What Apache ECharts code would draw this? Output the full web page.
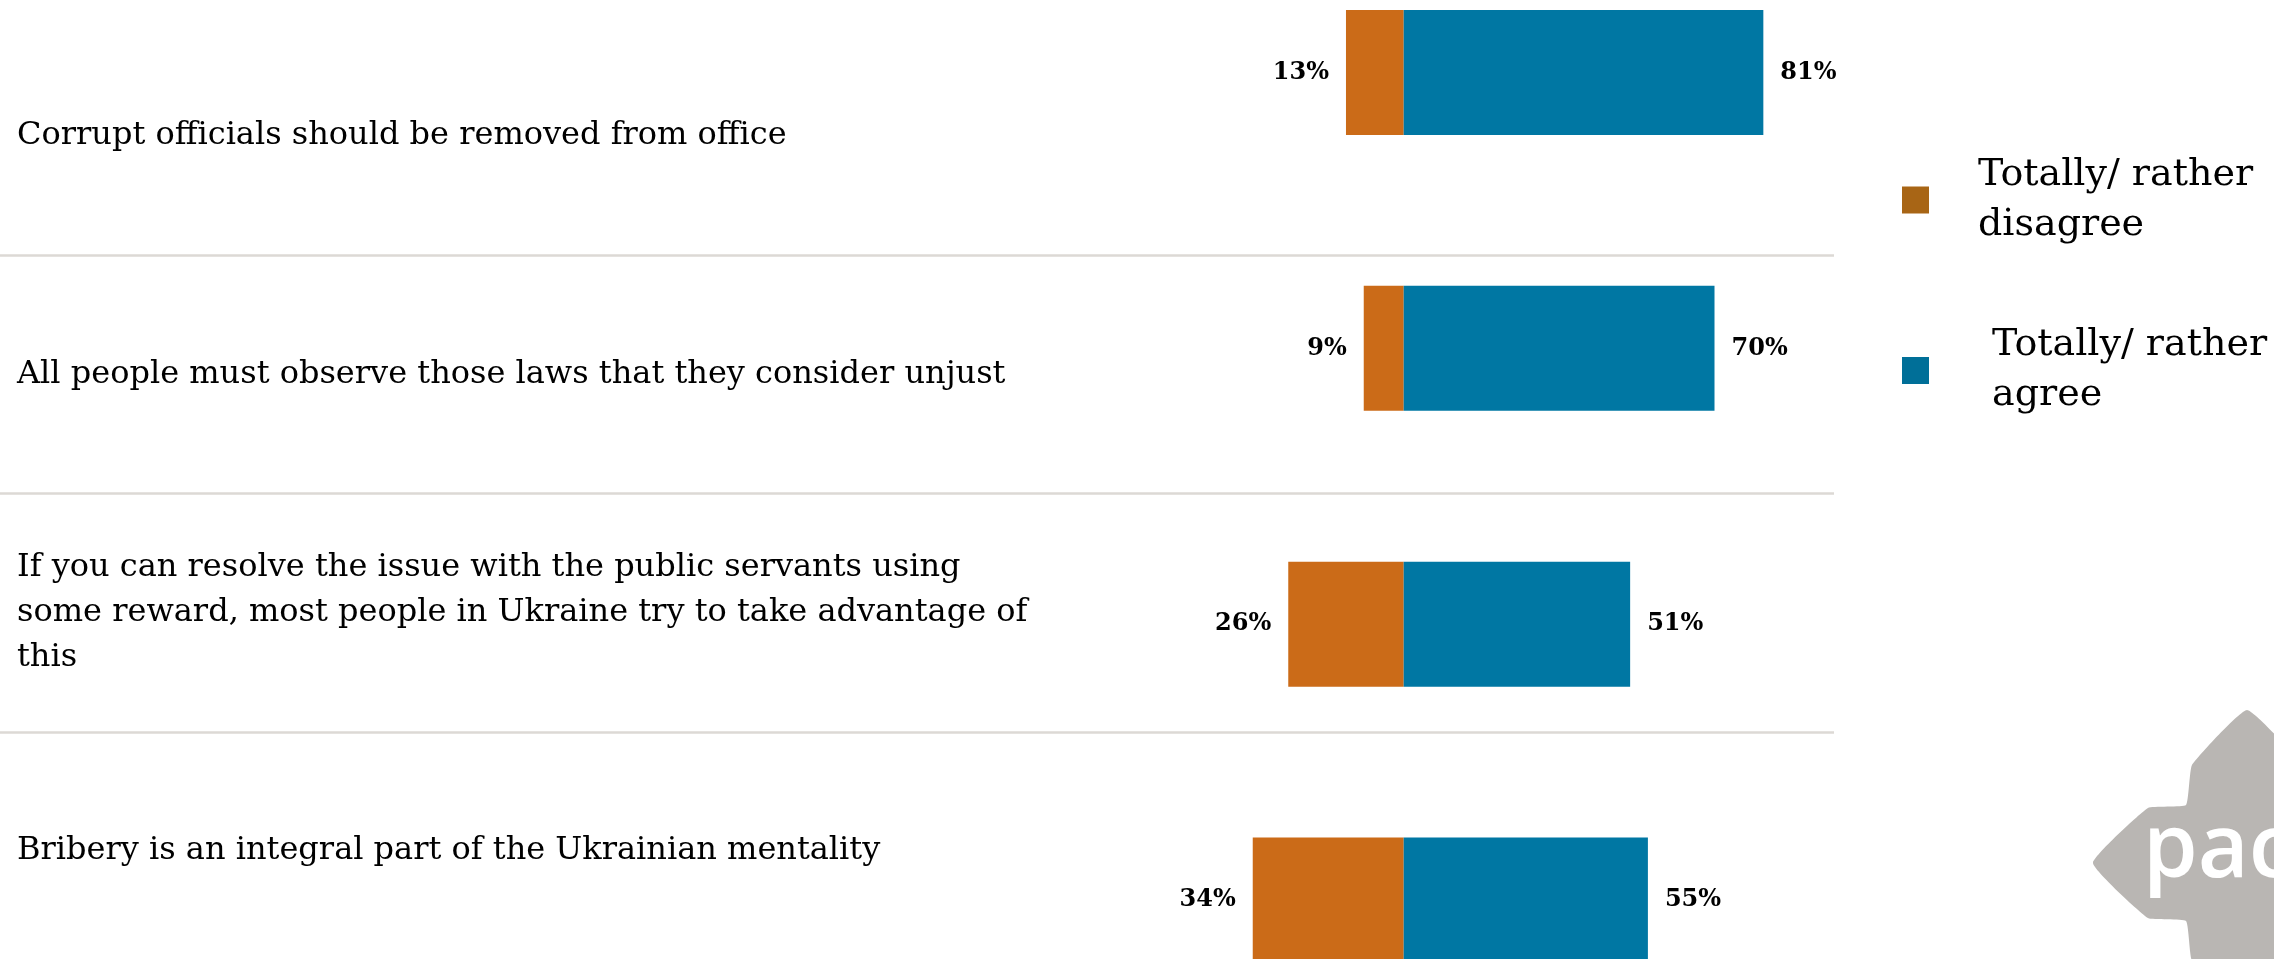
<!DOCTYPE html>
<html>
<head>
<meta charset="utf-8">
<script src="https://cdn.jsdelivr.net/npm/echarts@6/dist/echarts.min.js"></script>
<style>
  html, body { margin: 0; padding: 0; background: #ffffff; }
  #chart { width: 2274px; height: 959px; }
</style>
</head>
<body>
<div id="chart"></div>
<script>
// ---- data ----
const categories = [
  'Corrupt officials should be removed from office',
  'All people must observe those laws that they consider unjust',
  'If you can resolve the issue with the public servants using\nsome reward, most people in Ukraine try to take advantage of\nthis',
  'Bribery is an integral part of the Ukrainian mentality'
];
const disagree = [13, 9, 26, 34];
const agree = [81, 70, 51, 55];
const seriesNames = ['Totally/ rather disagree', 'Totally/ rather agree'];
const logoText = 'pac';

const ORANGE = '#CB6B18';
const BLUE = '#0077A3';
const SERIF = '"DejaVu Serif", "Liberation Serif", serif';

const chart = echarts.init(document.getElementById('chart'), null, { renderer: 'canvas' });

const labelStyle = {
  show: true,
  distance: 17,
  color: '#000000',
  fontFamily: SERIF,
  fontWeight: 'bold',
  fontSize: 24,
  formatter: p => Math.abs(p.value) + '%'
};

const option = {
  backgroundColor: '#ffffff',
  animation: false,
  grid: [
    // bars: first and last category sit on the grid edges (boundaryGap false)
    { left: 1181.7, right: 426.3, top: 72.5, bottom: 58.9, containLabel: false, outerBoundsMode: 'none' },
    // table of statements with separators
    { left: 0, right: 440, top: 17, bottom: -11, containLabel: false, outerBoundsMode: 'none' }
  ],
  xAxis: [
    { type: 'value', gridIndex: 0, min: -50, max: 100, show: false },
    { type: 'value', gridIndex: 1, min: 0, max: 1, show: false }
  ],
  yAxis: [
    { type: 'category', gridIndex: 0, data: categories, inverse: true, boundaryGap: false, show: false },
    {
      type: 'category', gridIndex: 1, data: categories, inverse: true,
      axisLine: { show: false }, axisTick: { show: false },
      axisLabel: {
        show: true, interval: 0, align: 'left', margin: -17,
        fontFamily: SERIF, fontSize: 32, lineHeight: 45, color: '#000000'
      },
      splitLine: {
        show: true, showMinLine: false, showMaxLine: false, interval: 0,
        lineStyle: { color: '#DCD9D5', width: 2.5 }
      }
    }
  ],
  legend: {
    orient: 'vertical',
    left: 1902,
    top: 150,
    padding: 0,
    itemGap: 70.5,
    itemWidth: 27,
    itemHeight: 27,
    icon: 'rect',
    selectedMode: false,
    formatter: name => name.replace('rather ', 'rather\n'),
    textStyle: { fontFamily: SERIF, fontSize: 38, lineHeight: 50, color: '#000000' },
    data: [
      { name: seriesNames[0], itemStyle: { color: '#A86515' }, textStyle: { padding: [0, 0, 0, 44] } },
      { name: seriesNames[1], itemStyle: { color: '#006F98' }, textStyle: { padding: [0, 0, 0, 58] } }
    ]
  },
  series: [
    {
      name: seriesNames[0], type: 'bar', xAxisIndex: 0, yAxisIndex: 0,
      data: disagree.map(v => -v), barWidth: 125, barGap: '-100%',
      itemStyle: { color: ORANGE },
      label: Object.assign({}, labelStyle, { position: 'left' })
    },
    {
      name: seriesNames[1], type: 'bar', xAxisIndex: 0, yAxisIndex: 0,
      data: agree, barWidth: 125, barGap: '-100%',
      itemStyle: { color: BLUE },
      label: Object.assign({}, labelStyle, { position: 'right' })
    }
  ],
  graphic: [
    {
      type: 'polygon', silent: true, z: 0,
      shape: {
        smooth: 0.12,
        points: [
          [2093, 863], [2148, 808], [2186, 805], [2192, 765], [2247, 710],
          [2302, 765], [2308, 805], [2346, 808], [2401, 863], [2346, 918],
          [2308, 921], [2302, 961], [2247, 1016], [2192, 961], [2186, 921], [2148, 918]
        ]
      },
      style: { fill: '#B9B6B3' }
    },
    {
      type: 'text', silent: true, z: 1,
      style: {
        text: logoText, x: 2143, y: 852,
        fill: '#ffffff', font: '600 88px "Open Sans", sans-serif',
        textAlign: 'left', verticalAlign: 'middle'
      }
    }
  ]
};

chart.setOption(option);
</script>
</body>
</html>
